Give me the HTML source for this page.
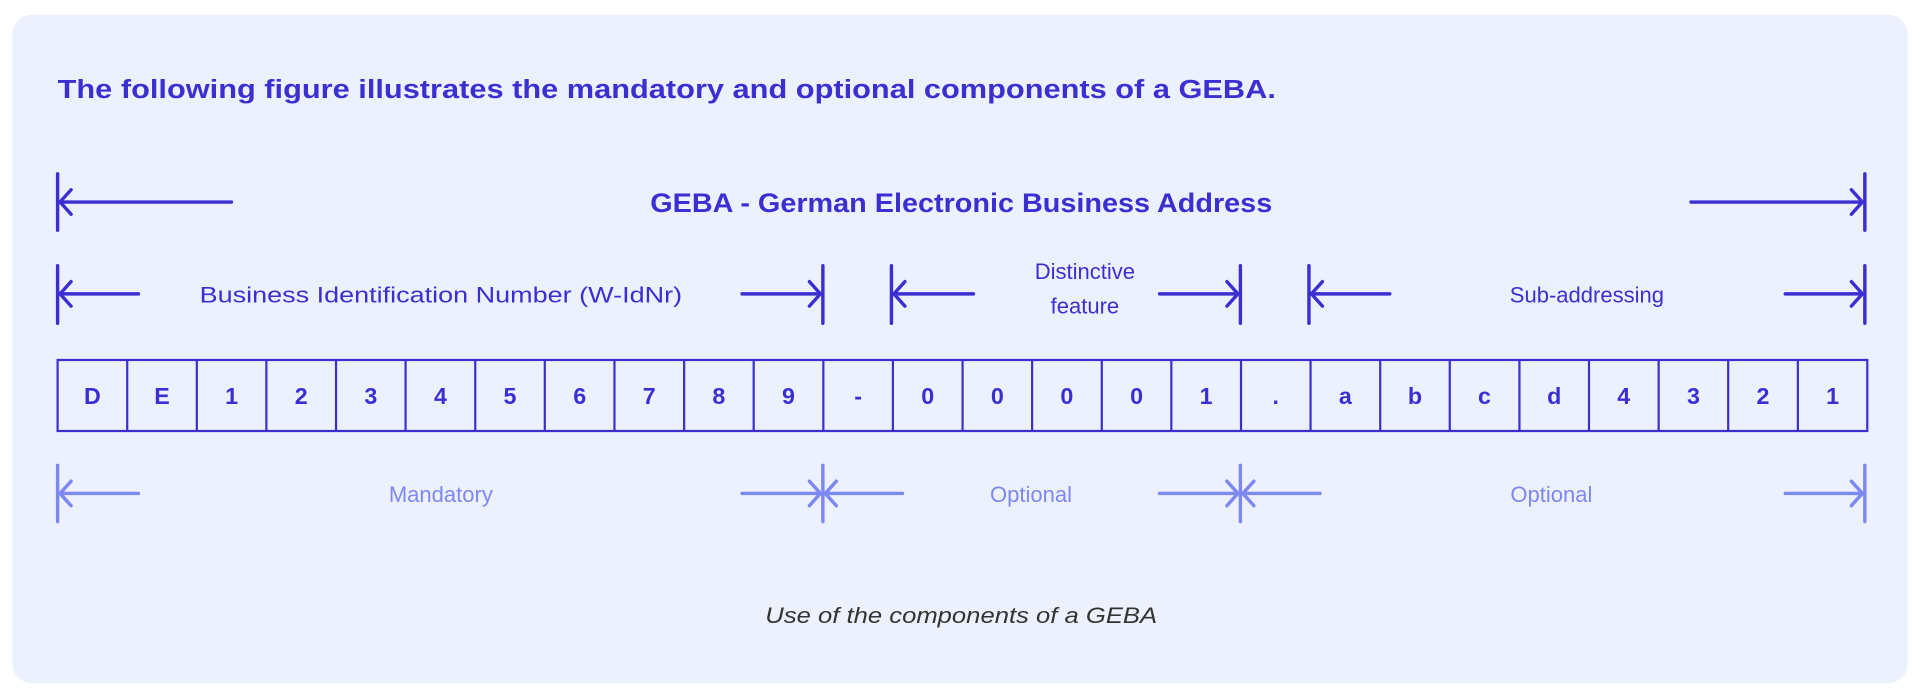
<!DOCTYPE html>
<html><head><meta charset="utf-8"><style>
html,body{margin:0;padding:0;background:#fff;}
svg{display:block}
text{font-family:"Liberation Sans",sans-serif}
</style></head><body>
<svg width="1920" height="688" viewBox="0 0 1568 561.9" xmlns="http://www.w3.org/2000/svg">
<rect x="10" y="12" width="1548" height="546" rx="16" fill="#edf1fd"/>
<text x="47" y="80" font-size="21" font-weight="bold" fill="#3b2fd2" textLength="995" lengthAdjust="spacingAndGlyphs">The following figure illustrates the mandatory and optional components of a GEBA.</text>

<g stroke="#3b2fd2" stroke-width="2.8" fill="none" stroke-linecap="round" stroke-linejoin="round">
<line x1="47" y1="142" x2="47" y2="188"/><line x1="48" y1="165" x2="189" y2="165"/><polyline points="58,155 49,165 58,175"/>
<line x1="1523" y1="142" x2="1523" y2="188"/><line x1="1381" y1="165" x2="1521" y2="165"/><polyline points="1512,155 1521,165 1512,175"/>
<line x1="47" y1="217" x2="47" y2="264"/><line x1="48" y1="240" x2="113" y2="240"/><polyline points="58,230 49,240 58,250"/>
<line x1="672" y1="217" x2="672" y2="264"/><line x1="606" y1="240" x2="670" y2="240"/><polyline points="661,230 670,240 661,250"/>
<line x1="728" y1="217" x2="728" y2="264"/><line x1="729" y1="240" x2="795" y2="240"/><polyline points="739,230 730,240 739,250"/>
<line x1="1013" y1="217" x2="1013" y2="264"/><line x1="947" y1="240" x2="1011" y2="240"/><polyline points="1002,230 1011,240 1002,250"/>
<line x1="1069" y1="217" x2="1069" y2="264"/><line x1="1070" y1="240" x2="1135" y2="240"/><polyline points="1080,230 1071,240 1080,250"/>
<line x1="1523" y1="217" x2="1523" y2="264"/><line x1="1458" y1="240" x2="1521" y2="240"/><polyline points="1512,230 1521,240 1512,250"/>
</g>
<g stroke="#7d88f1" stroke-width="2.8" fill="none" stroke-linecap="round" stroke-linejoin="round">
<line x1="47" y1="380" x2="47" y2="426"/><line x1="48" y1="403" x2="113" y2="403"/><polyline points="58,393 49,403 58,413"/>
<line x1="672" y1="380" x2="672" y2="426"/><line x1="606" y1="403" x2="670" y2="403"/><polyline points="661,393 670,403 661,413"/>
<line x1="674" y1="403" x2="737" y2="403"/><polyline points="683,393 674,403 683,413"/>
<line x1="1013" y1="380" x2="1013" y2="426"/><line x1="947" y1="403" x2="1011" y2="403"/><polyline points="1002,393 1011,403 1002,413"/>
<line x1="1015" y1="403" x2="1078" y2="403"/><polyline points="1024,393 1015,403 1024,413"/>
<line x1="1523" y1="380" x2="1523" y2="426"/><line x1="1458" y1="403" x2="1521" y2="403"/><polyline points="1512,393 1521,403 1512,413"/>
</g>

<text x="785" y="173" font-size="22" font-weight="bold" fill="#3b2fd2" text-anchor="middle" textLength="508" lengthAdjust="spacingAndGlyphs">GEBA - German Electronic Business Address</text>
<g font-size="18" fill="#3b2fd2" text-anchor="middle">
<text x="360" y="247" textLength="394" lengthAdjust="spacingAndGlyphs">Business Identification Number (W-IdNr)</text>
<text x="886" y="228">Distinctive</text>
<text x="886" y="256">feature</text>
<text x="1296" y="247">Sub-addressing</text>
</g>
<g font-size="18" fill="#7d88f1" text-anchor="middle">
<text x="360" y="410">Mandatory</text>
<text x="842" y="410">Optional</text>
<text x="1267" y="410">Optional</text>
</g>

<g stroke="#3b2fd2" stroke-width="1.8" fill="none">
<rect x="47" y="294" width="1478" height="58"/>
<path d="M103.85,294v58M160.7,294v58M217.5,294v58M274.4,294v58M331.2,294v58M388.1,294v58M444.9,294v58M501.8,294v58M558.7,294v58M615.5,294v58M672.4,294v58M729.2,294v58M786.1,294v58M842.9,294v58M899.8,294v58M956.6,294v58M1013.5,294v58M1070.3,294v58M1127.2,294v58M1184,294v58M1240.9,294v58M1297.7,294v58M1354.6,294v58M1411.4,294v58M1468.3,294v58"/>
</g>
<g font-size="19" fill="#3b2fd2" text-anchor="middle" font-weight="bold">
<text x="75.4" y="330">D</text><text x="132.3" y="330">E</text><text x="189.1" y="330">1</text><text x="246" y="330">2</text><text x="302.8" y="330">3</text><text x="359.7" y="330">4</text><text x="416.5" y="330">5</text><text x="473.4" y="330">6</text><text x="530.2" y="330">7</text><text x="587.1" y="330">8</text><text x="643.9" y="330">9</text><text x="700.8" y="330">-</text><text x="757.6" y="330">0</text><text x="814.5" y="330">0</text><text x="871.3" y="330">0</text><text x="928.2" y="330">0</text><text x="985" y="330">1</text><text x="1041.9" y="330">.</text><text x="1098.7" y="330">a</text><text x="1155.6" y="330">b</text><text x="1212.4" y="330">c</text><text x="1269.3" y="330">d</text><text x="1326.1" y="330">4</text><text x="1383" y="330">3</text><text x="1439.8" y="330">2</text><text x="1496.7" y="330">1</text>
</g>
<text x="785" y="509" font-size="18" font-style="italic" fill="#333" text-anchor="middle" textLength="320" lengthAdjust="spacingAndGlyphs">Use of the components of a GEBA</text>
</svg>
</body></html>
